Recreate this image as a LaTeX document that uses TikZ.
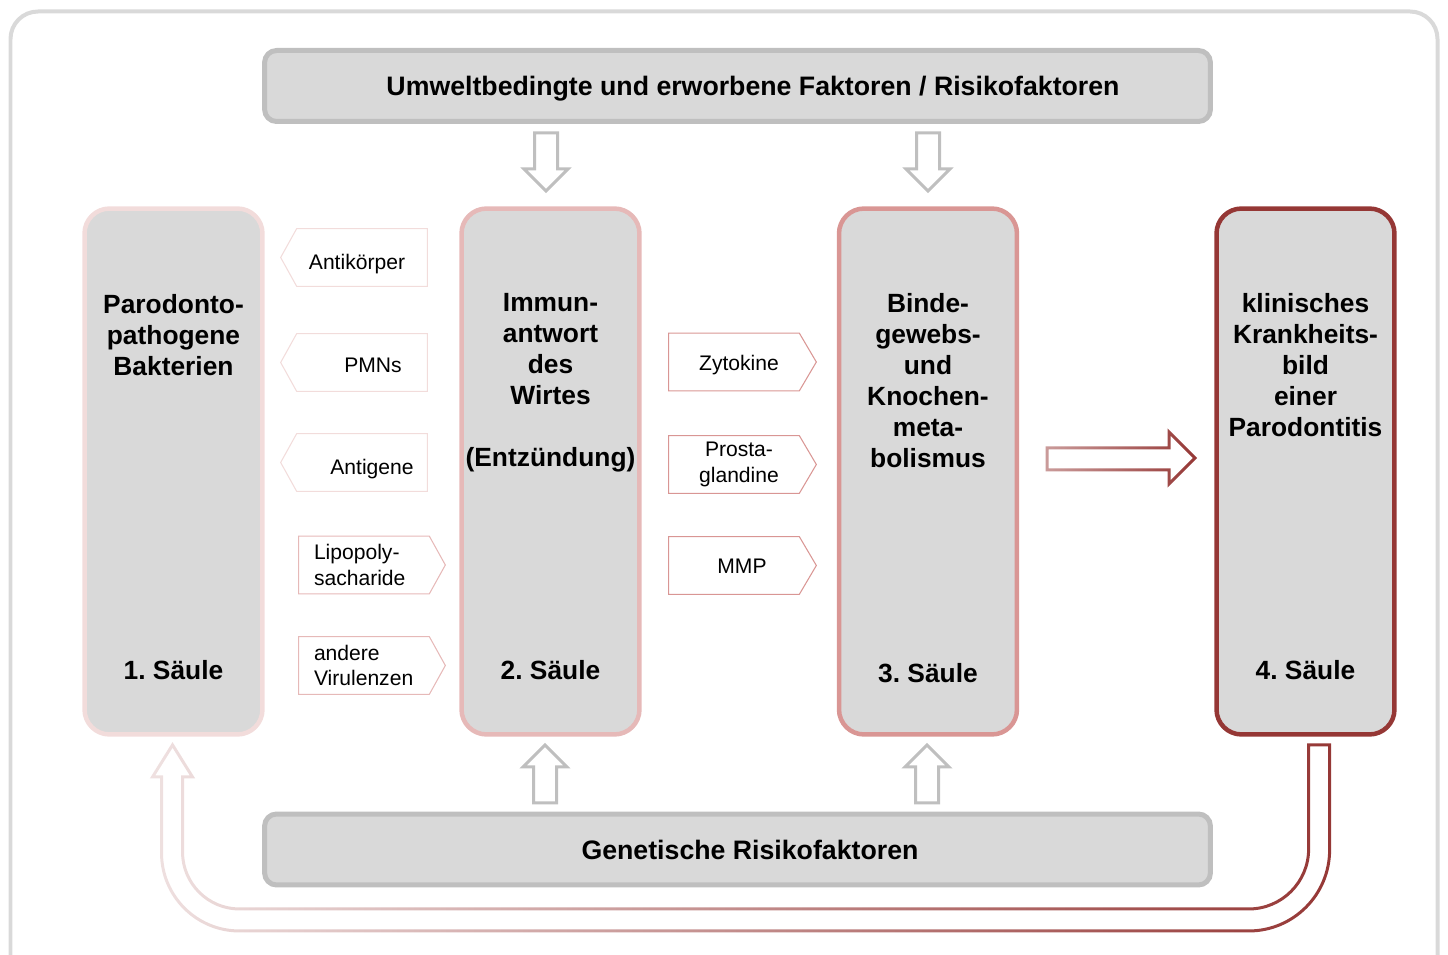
\documentclass[tikz,border=0pt]{standalone}
\usepackage{fontspec}
\setmainfont{Liberation Sans}
\usepackage{tikz}
\usetikzlibrary{positioning,fadings}
\frenchspacing

\definecolor{boxgray}{HTML}{D9D9D9}
\definecolor{linegray}{HTML}{BFBFBF}
\definecolor{rose1}{HTML}{F2DCDB}
\definecolor{rose2}{HTML}{E6B9B8}
\definecolor{rose3}{HTML}{D99694}
\definecolor{darkred}{HTML}{953735}

\tikzfading[name=fade in right, left color=transparent!85, right color=transparent!0]
\tikzfading[name=fade half right, left color=transparent!50, right color=transparent!0]

\tikzset{
    %Define style for the two factor boxes
    leiste/.style={
           rectangle,
           rounded corners=0.24cm,
           fill=boxgray, draw=linegray,
           line width=0.1cm,
           minimum width=18.92cm,
           minimum height=1.42cm,
           text height=0.46cm, text depth=0.06cm,
           font=\bfseries\fontsize{15.2}{18}\selectfont},
    %Define style for the pillars
    saeule/.style={
           rectangle,
           rounded corners=0.5cm,
           fill=boxgray,
           line width=0.09cm,
           minimum width=3.56cm,
           minimum height=10.52cm},
    titel/.style={
           inner sep=0pt,
           align=center,
           font=\bfseries\fontsize{15}{17.6}\selectfont},
    %Define style for the small pointers
    stichwort/.style={
           rectangle,
           minimum width=2.6cm,
           minimum height=1.14cm,
           inner sep=0pt,
           align=center,
           font=\fontsize{12}{14.5}\selectfont},
    tief/.style={text height=#1, text depth=0.08cm},
    zeiger/.style={line width=0.6pt},
    % Define style for the hollow gray arrows
    hohlpfeil/.style={
           draw=linegray,
           line width=0.06cm,
           fill=white}
}

\begin{document}
\begin{tikzpicture}[x=0.02cm, y=-0.02cm]
\useasboundingbox (0,0) rectangle (1448,955);
\clip (0,0) rectangle (1448,955);
\draw[boxgray, line width=0.08cm, rounded corners=0.55cm] (10.5,11.5) rectangle (1437.5,1000);

 %factors
\node[leiste](env) at (737.5,86){\hspace*{0.62cm}Umweltbedingte und erworbene Faktoren / Risikofaktoren};
\node[leiste](gen) at (737.5,849.5){\hspace*{0.5cm}Genetische Risikofaktoren};

 %pillars
\node[saeule, draw=rose1](p1) at (173.5,471.5){};
\node[saeule, draw=rose2](p2) at (550.5,471.5){};
\node[saeule, draw=rose3](p3) at (928,471.5){};
\node[saeule, draw=darkred](p4) at (1305.5,471.5){};

\node[titel, below=1.76cm of p1.north](t1){Parodonto-\\pathogene\\Bakterien};
\node[titel, below=1.74cm of p2.north](t2){Immun-\\antwort\\des\\Wirtes\\[17.6pt](Entzündung)};
\node[titel, below=1.74cm of p3.north](t3){Binde-\\gewebs-\\und\\Knochen-\\meta-\\bolismus};
\node[titel, below=1.74cm of p4.north](t4){klinisches\\Krankheits-\\bild\\einer\\Parodontitis};

\node[titel, above=1.14cm of p1.south](s1){1. Säule};
\node[titel, above=1.14cm of p2.south](s2){2. Säule};
\node[titel, above=1.08cm of p3.south](s3){3. Säule};
\node[titel, above=1.14cm of p4.south](s4){4. Säule};

 %pointers
\node[stichwort, tief=0.58cm](ak) at (362,257.5){Antikörper\hspace*{0.2cm}};
\node[stichwort, tief=0.5cm](pmn) at (362,362.5){\hspace*{0.44cm}PMNs};
\node[stichwort, tief=0.58cm](ag) at (362,462.5){\hspace*{0.4cm}Antigene};
\node[stichwort, text width=2cm, align=left](lps) at (364,565){Lipopoly-\\sacharide};
\node[stichwort, text width=2cm, align=left](vir) at (364,665.5){andere\\Virulenzen};
\node[stichwort, tief=0.42cm](zyt) at (734,362){\hspace*{0.2cm}Zytokine};
\node[stichwort](pg) at (734,464.5){\hspace*{0.2cm}Prosta-\\\hspace*{0.2cm}glandine};
\node[stichwort, tief=0.42cm](mmp) at (734,565.5){\hspace*{0.32cm}MMP};

\foreach \n in {ak,pmn,ag}
  \draw[zeiger, rose1] (\n.north east) -- (\n.north west) -- ([xshift=-0.32cm]\n.west) -- (\n.south west) -- (\n.south east) -- cycle;
\foreach \n in {lps,vir}
  \draw[zeiger, rose2] (\n.north west) -- (\n.north east) -- ([xshift=0.32cm]\n.east) -- (\n.south east) -- (\n.south west) -- cycle;
\foreach \n in {zyt,pg,mmp}
  \draw[zeiger, rose3] (\n.north west) -- (\n.north east) -- ([xshift=0.34cm]\n.east) -- (\n.south east) -- (\n.south west) -- cycle;

 %gray arrows
\foreach \x in {546,928}
  \draw[hohlpfeil] ({\x-11.5},133) -- ({\x+11.5},133) -- ({\x+11.5},169) -- ({\x+22},169) -- (\x,191) -- ({\x-22},169) -- ({\x-11.5},169) -- cycle;
\foreach \x in {545,927}
  \draw[hohlpfeil] ({\x-11.5},803) -- ({\x+11.5},803) -- ({\x+11.5},767) -- ({\x+22},767) -- (\x,745) -- ({\x-22},767) -- ({\x-11.5},767) -- cycle;

 %red arrows
\draw[darkred, line width=0.06cm, path fading=fade half right] (1047,448) -- (1169,448) -- (1169,432) -- (1195,458) -- (1169,484) -- (1169,470) -- (1047,470) -- cycle;
\draw[darkred, line width=0.06cm, path fading=fade in right] (1310,745) -- (1331,745) -- (1331,850) arc[start angle=0, end angle=90, radius=81] -- (240,931) arc[start angle=90, end angle=180, radius=78] -- (162,777) -- (153,777) -- (173,745) -- (193,777) -- (183,777) -- (183,852) arc[start angle=180, end angle=90, radius=57] -- (1250,909) arc[start angle=90, end angle=0, radius=60] -- cycle;
\end{tikzpicture}
\end{document}
